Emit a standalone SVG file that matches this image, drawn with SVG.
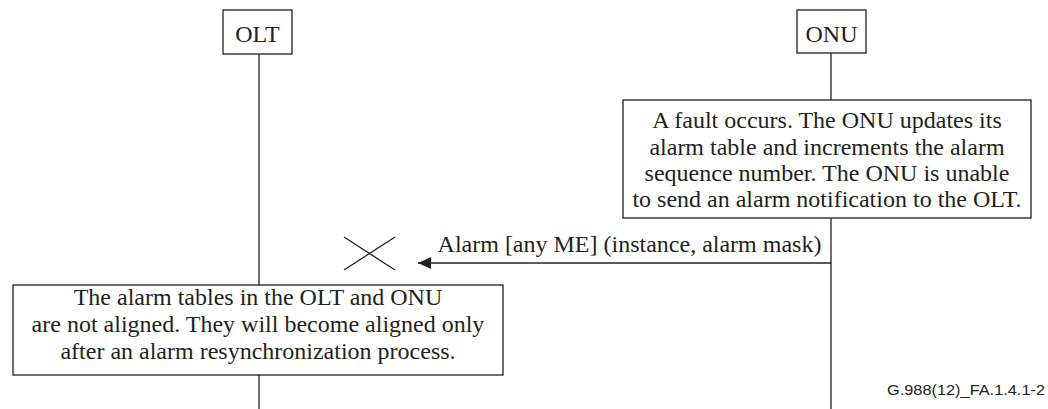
<svg xmlns="http://www.w3.org/2000/svg" width="1048" height="409" viewBox="0 0 1048 409">
<defs>
<style>
.box{fill:#fff;stroke:#231f20;stroke-width:1.3}
.ln{stroke:#231f20;stroke-width:1.3;fill:none}
.t{font-family:"Liberation Serif","Times New Roman",serif;font-size:24px;fill:#231f20;text-anchor:middle}
.h{font-family:"Liberation Serif","Times New Roman",serif;font-size:24px;fill:#231f20;text-anchor:middle}
.f{font-family:"Liberation Sans",Arial,sans-serif;font-size:14.5px;fill:#231f20}
</style>
<marker id="ah" markerWidth="14" markerHeight="12" refX="13" refY="6" orient="auto" markerUnits="userSpaceOnUse">
<path d="M0,0 L13,6 L0,12 Z" fill="#231f20"/>
</marker>
</defs>
<rect width="1048" height="409" fill="#fff"/>
<g id="lifelines">
<line class="ln" x1="259" y1="54" x2="259" y2="409"/>
<line class="ln" x1="831" y1="53" x2="831" y2="409"/>
</g>
<g id="OLT">
<rect class="box" x="223" y="10" width="69" height="44"/>
<text class="h" x="257.5" y="42">OLT</text>
</g>
<g id="ONU">
<rect class="box" x="797" y="10" width="69" height="43"/>
<text class="h" x="831.5" y="42">ONU</text>
</g>
<g id="onu-note">
<rect class="box" x="623" y="100" width="408" height="118"/>
<text class="t" x="827" y="128">A fault occurs. The ONU updates its</text>
<text class="t" x="827" y="154.5">alarm table and increments the alarm</text>
<text class="t" x="827" y="181">sequence number. The ONU is unable</text>
<text class="t" x="827" y="207">to send an alarm notification to the OLT.</text>
</g>
<g id="connectors">
<line class="ln" x1="831" y1="263" x2="418" y2="263" marker-end="url(#ah)"/>
<text class="t" x="629.5" y="252">Alarm [any ME] (instance, alarm mask)</text>
</g>
<g id="lost-mark">
<line class="ln" x1="344" y1="237" x2="395" y2="270"/>
<line class="ln" x1="395" y1="237" x2="344" y2="270"/>
</g>
<g id="olt-note">
<rect class="box" x="13" y="285" width="490" height="90"/>
<text class="t" x="258" y="305">The alarm tables in the OLT and ONU</text>
<text class="t" x="258" y="332">are not aligned. They will become aligned only</text>
<text class="t" x="258" y="358.5">after an alarm resynchronization process.</text>
</g>
<text class="f" x="887" y="395" textLength="158" lengthAdjust="spacingAndGlyphs">G.988(12)_FA.1.4.1-2</text>
</svg>
